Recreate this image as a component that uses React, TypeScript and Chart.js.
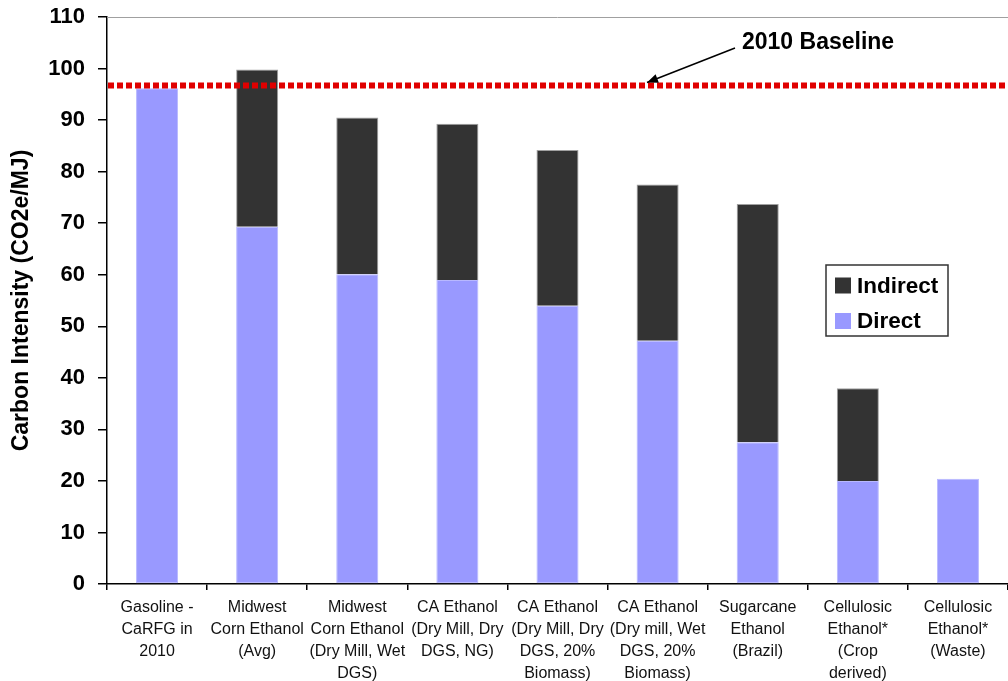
import React, { useEffect, useRef } from "react";
import { Chart, registerables } from "chart.js";

Chart.register(...registerables);

// Fuel pathways on the x axis (multi-line labels)
const categories: string[][] = [
  ["Gasoline -", "CaRFG in", "2010"],
  ["Midwest", "Corn Ethanol", "(Avg)"],
  ["Midwest", "Corn Ethanol", "(Dry Mill, Wet", "DGS)"],
  ["CA Ethanol", "(Dry Mill, Dry", "DGS, NG)"],
  ["CA Ethanol", "(Dry Mill, Dry", "DGS, 20%", "Biomass)"],
  ["CA Ethanol", "(Dry mill, Wet", "DGS, 20%", "Biomass)"],
  ["Sugarcane", "Ethanol", "(Brazil)"],
  ["Cellulosic", "Ethanol*", "(Crop", "derived)"],
  ["Cellulosic", "Ethanol*", "(Waste)"],
];

// Carbon intensity components, gCO2e/MJ
const directValues: number[] = [96.2, 69.3, 60.1, 59.0, 54.0, 47.2, 27.5, 20.0, 20.4];
const indirectValues: (number | null)[] = [null, 30.5, 30.4, 30.3, 30.2, 30.3, 46.2, 18.0, null];

// 2010 gasoline baseline
const baselineValue = 96.7;
const baselineLabel = "2010 Baseline";

const yTicks = { min: 0, max: 110, step: 10 };

const DIRECT_COLOR = "#9999ff";
const INDIRECT_COLOR = "#333333";
const FONT = "'Liberation Sans', Arial, Helvetica, sans-serif";

const overlayPlugin = {
  id: "overlay",
  afterDatasetsDraw(chart: any) {
    const { ctx, chartArea, scales } = chart;
    const yBase = scales.y.getPixelForValue(baselineValue);
    ctx.save();

    // top frame line
    ctx.strokeStyle = "#a0a0a0";
    ctx.lineWidth = 1;
    ctx.beginPath();
    ctx.moveTo(chartArea.left, chartArea.top + 0.5);
    ctx.lineTo(chartArea.right, chartArea.top + 0.5);
    ctx.stroke();

    // dotted baseline
    ctx.strokeStyle = "#e00000";
    ctx.lineWidth = 6;
    ctx.setLineDash([6, 3]);
    ctx.beginPath();
    ctx.moveTo(chartArea.left + 1, yBase);
    ctx.lineTo(chartArea.right, yBase);
    ctx.stroke();
    ctx.setLineDash([]);

    // annotation text and arrow
    ctx.fillStyle = "#000";
    ctx.font = `bold 23px ${FONT}`;
    ctx.textAlign = "left";
    ctx.textBaseline = "middle";
    ctx.fillText(baselineLabel, 742, 43);

    const x0 = 735, y0 = 48;
    const x1 = 647, y1 = yBase - 3;
    ctx.strokeStyle = "#000";
    ctx.lineWidth = 1.5;
    ctx.beginPath();
    ctx.moveTo(x0, y0);
    ctx.lineTo(x1, y1);
    ctx.stroke();
    const ang = Math.atan2(y1 - y0, x1 - x0);
    const ah = 11, aw = 4.5;
    ctx.beginPath();
    ctx.moveTo(x1, y1);
    ctx.lineTo(
      x1 - ah * Math.cos(ang) + aw * Math.sin(ang),
      y1 - ah * Math.sin(ang) - aw * Math.cos(ang)
    );
    ctx.lineTo(
      x1 - ah * Math.cos(ang) - aw * Math.sin(ang),
      y1 - ah * Math.sin(ang) + aw * Math.cos(ang)
    );
    ctx.closePath();
    ctx.fill();

    // legend box
    const lx = 826, ly = 265, lw = 122, lh = 71;
    ctx.fillStyle = "#fff";
    ctx.fillRect(lx, ly, lw, lh);
    ctx.strokeStyle = "#333";
    ctx.lineWidth = 1.5;
    ctx.strokeRect(lx, ly, lw, lh);

    const items = [
      { label: "Indirect", color: INDIRECT_COLOR, cy: 285.5 },
      { label: "Direct", color: DIRECT_COLOR, cy: 321 },
    ];
    ctx.font = `bold 22.5px ${FONT}`;
    items.forEach((it) => {
      ctx.fillStyle = it.color;
      ctx.fillRect(835, it.cy - 8, 16, 16);
      ctx.fillStyle = "#000";
      ctx.fillText(it.label, 857, it.cy + 1);
    });

    ctx.restore();
  },
};

export default function App() {
  const canvasRef = useRef<HTMLCanvasElement | null>(null);

  useEffect(() => {
    if (!canvasRef.current) return;
    const chart = new Chart(canvasRef.current, {
      type: "bar",
      data: {
        labels: categories,
        datasets: [
          {
            label: "Direct",
            data: directValues,
            backgroundColor: DIRECT_COLOR,
            borderColor: "#b8b8ff",
            borderWidth: 1,
            borderSkipped: false,
            categoryPercentage: 1,
            barPercentage: 0.42,
          },
          {
            label: "Indirect",
            data: indirectValues,
            backgroundColor: INDIRECT_COLOR,
            borderColor: "#a0a0a0",
            borderWidth: 1,
            borderSkipped: "bottom",
            categoryPercentage: 1,
            barPercentage: 0.42,
          },
        ],
      },
      options: {
        responsive: false,
        animation: false,
        layout: { padding: { top: 17, right: 0, left: 0, bottom: 0 } },
        plugins: {
          legend: { display: false },
          tooltip: { enabled: false },
          title: { display: false },
        },
        scales: {
          x: {
            stacked: true,
            grid: {
              display: true,
              offset: true,
              drawOnChartArea: false,
              drawTicks: true,
              tickLength: 6,
              color: "#000",
              lineWidth: 1.5,
            },
            border: { display: true, color: "#000", width: 1.5 },
            ticks: {
              color: "#111",
              font: { family: FONT, size: 16, lineHeight: "22px" as any },
              padding: 7,
              maxRotation: 0,
              autoSkip: false,
            },
            afterFit(scale: any) {
              scale.height = 97;
              scale.paddingLeft = 0;
              scale.paddingRight = 0;
            },
          },
          y: {
            stacked: true,
            min: yTicks.min,
            max: yTicks.max,
            grid: {
              display: true,
              drawOnChartArea: false,
              drawTicks: true,
              tickLength: 9,
              color: "#000",
              lineWidth: 1.5,
            },
            border: { display: true, color: "#000", width: 1.5 },
            ticks: {
              stepSize: yTicks.step,
              color: "#000",
              font: { family: FONT, size: 22, weight: "bold" },
              padding: 13,
            },
            title: {
              display: true,
              text: "Carbon Intensity (CO2e/MJ)",
              color: "#000",
              font: { family: FONT, size: 23, weight: "bold" },
              padding: { top: 8, bottom: 0 },
            },
            afterFit(scale: any) {
              scale.width = 107;
              scale.paddingTop = 0;
              scale.paddingBottom = 0;
            },
          },
        },
      },
      plugins: [overlayPlugin],
    });
    return () => chart.destroy();
  }, []);

  return (
    <div style={{ position: "fixed", left: 0, top: 0, width: 1008, height: 681, background: "#fff" }}>
      <canvas ref={canvasRef} width={1008} height={681} />
    </div>
  );
}
